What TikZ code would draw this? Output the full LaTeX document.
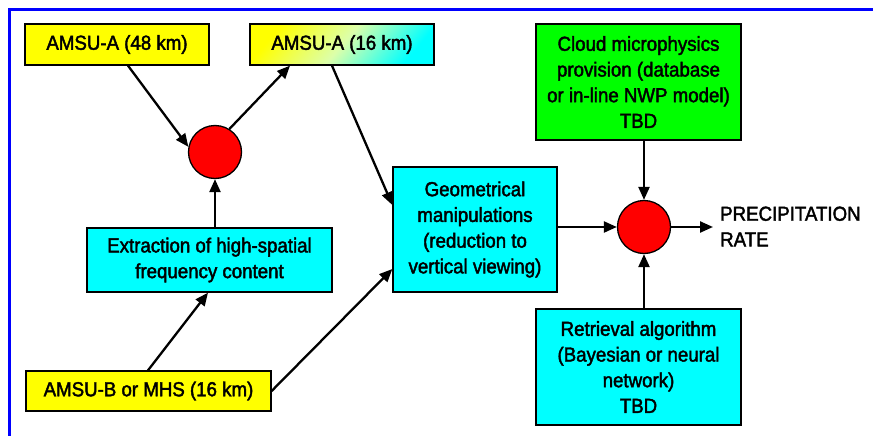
\documentclass[tikz,border=0pt]{standalone}
\usepackage{fontspec}
\setmainfont{Liberation Sans}[FakeStretch=0.92, FakeBold=2]
\usetikzlibrary{arrows.meta, positioning, calc}

\definecolor{amsuyellow}{RGB}{255,255,0}
\definecolor{boxcyan}{RGB}{0,255,255}
\definecolor{cloudgreen}{RGB}{0,255,0}
\definecolor{paleyg}{RGB}{220,255,170}
\definecolor{frameblue}{RGB}{0,0,255}

\begin{document}
\begin{tikzpicture}[
    x=1pt, y=-1pt,
    box/.style={rectangle, draw, line width=1.3pt, inner sep=0pt, align=center, font=\fontsize{20.3}{25.7}\selectfont},
    merge/.style={circle, draw, fill=red, line width=1.3pt, minimum size=53pt, inner sep=0pt},
    arrow/.style={-{Triangle[length=13pt, width=11pt]}, line width=2.3pt}
]
    \useasboundingbox (0,0) rectangle (873,436);
    % Frame
    \draw[frameblue, line width=2.5pt] (9.5,436) |- (873,9.5);

    % Sensors
    \node[box, fill=amsuyellow, minimum width=184pt, minimum height=41pt] (a48) at (117,44.5) {AMSU-A (48 km)};
    \node[box, left color=amsuyellow, right color=boxcyan, middle color=paleyg, shading angle=50,
          minimum width=184pt, minimum height=41pt] (a16) at (342,44.5) {AMSU-A (16 km)};
    \node[box, fill=amsuyellow, minimum width=245pt, minimum height=40pt] (amsub) at (148.5,391) {AMSU-B or MHS (16 km)};

    % Processing
    \node[merge] (mix) at (215,152) {};
    \node[box, fill=boxcyan, minimum width=245pt, minimum height=64pt] (extract) at (209.5,260) {Extraction of high-spatial\\frequency content};
    \node[box, fill=boxcyan, minimum width=164pt, minimum height=125pt] (geom) at (475,229.5) {Geometrical\\manipulations\\(reduction to\\vertical viewing)};

    % Retrieval
    \node[merge] (comb) at (644,227) {};
    \node[box, fill=cloudgreen, minimum width=205pt, minimum height=116pt] (cloud) at (638.5,82) {Cloud microphysics\\provision (database\\or in-line NWP model)\\TBD};
    \node[box, fill=boxcyan, minimum width=205pt, minimum height=116pt] (retr) at (638.5,367) {Retrieval algorithm\\(Bayesian or neural\\network)\\TBD};
    \node[anchor=west, align=left, inner xsep=7pt, inner ysep=0pt, font=\fontsize{20.3}{25.7}\selectfont] (rate) at (713,226.5) {PRECIPITATION\\RATE};

    \draw[arrow] ([xshift=11pt]a48.south) -- (mix.169);
    \draw[arrow] (mix.58) -- ([xshift=-52pt]a16.south);
    \draw[arrow] (mix.south |- extract.north) -- (mix.south);
    \draw[arrow] ([xshift=-10pt]a16.south) -- ([yshift=24.5pt]geom.west);
    \draw[arrow] ([xshift=-0.5pt]amsub.north) -- ([xshift=-1.5pt]extract.south);
    \draw[arrow] (amsub.east) -- ([yshift=-39.5pt]geom.west);
    \draw[arrow] (geom.east |- comb.west) -- (comb.west);
    \draw[arrow] (comb.east) -- (comb.east -| rate.west);
    \draw[arrow] (comb.north |- cloud.south) -- (comb.north);
    \draw[arrow] (comb.south |- retr.north) -- (comb.south);
\end{tikzpicture}
\end{document}
